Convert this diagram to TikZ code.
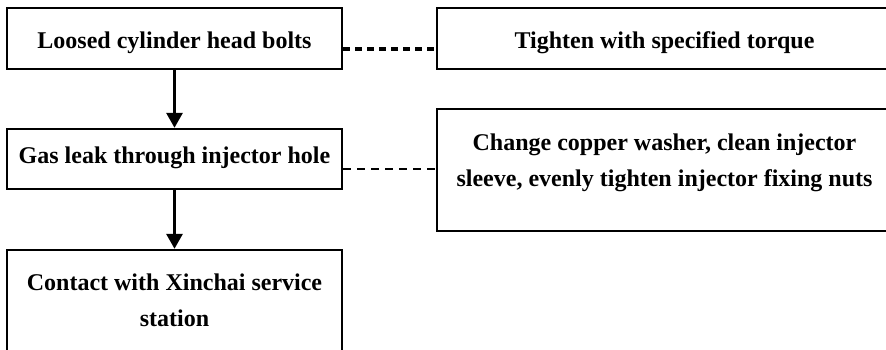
\documentclass[tikz,border=0pt]{standalone}
\usepackage{fontspec}
\setmainfont{Liberation Serif}
\usetikzlibrary{arrows.meta}
\begin{document}
\begin{tikzpicture}[x=1pt,y=1pt,
  box/.style={draw=black,line width=2.4pt,fill=white,inner sep=0pt},
  txt/.style={font=\fontsize{24}{36}\selectfont\bfseries,inner sep=0pt,align=center,anchor=base},
  flow/.style={line width=3pt,-{Triangle[length=15pt,width=16pt]}},
  dashA/.style={line width=3pt,dash pattern=on 7pt off 5pt},
  dashB/.style={line width=2pt,dash pattern=on 8pt off 6pt}]
\useasboundingbox (0,0) rectangle (886,349);
\clip (0,0) rectangle (886,349);
\fill[white] (0,0) rectangle (886,349);
% boxes
\node[box,minimum width=335pt,minimum height=61pt] (b1) at (174.5,310.5) {};
\node[box,minimum width=455pt,minimum height=61pt] (b2) at (664.5,310.5) {};
\node[box,minimum width=335pt,minimum height=60pt] (b3) at (174.5,190) {};
\node[box,minimum width=455pt,minimum height=122pt] (b4) at (664.5,179) {};
\node[box,minimum width=335pt,minimum height=110pt] (b5) at (174.5,44) {};
% texts
\node[txt] (t1) at (174.5,301) {Loosed cylinder head bolts};
\node[txt] (t2) at (664.5,301) {Tighten with specified torque};
\node[txt] (t3) at (174.5,186) {Gas leak through injector hole};
\node[txt] (t4a) at (664.5,199) {Change copper washer, clean injector};
\node[txt] (t4b) at (664.5,163) {sleeve, evenly tighten injector fixing nuts};
\node[txt] (t5a) at (174.5,59) {Contact with Xinchai service};
\node[txt] (t5b) at (174.5,23) {station};
% connectors
\draw[flow] (b1.south) -- (b3.north);
\draw[flow] (b3.south) -- (b5.north);
\draw[dashA] ([yshift=-10.5pt]b1.east) -- ([yshift=-10.5pt]b1.east -| b2.west);
\draw[dashB] ([yshift=-10pt]b3.east) -- ([yshift=-10pt]b3.east -| b4.west);
\end{tikzpicture}
\end{document}
